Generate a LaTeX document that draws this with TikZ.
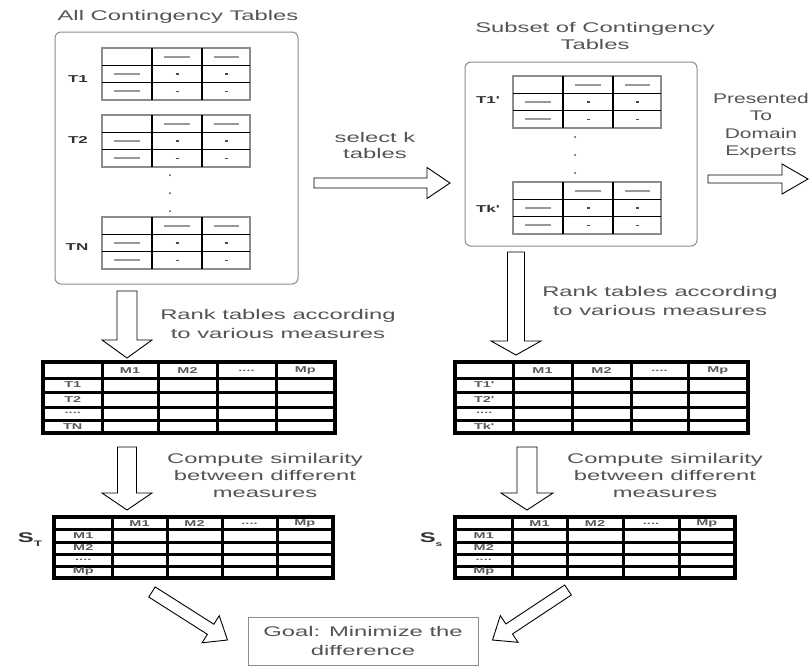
\documentclass[tikz,border=0pt]{standalone}
\usepackage{fontspec}
\setmainfont{Liberation Sans}
\newfontfamily\wf[FakeStretch=1.7]{Liberation Sans}
\newfontfamily\wfn[FakeStretch=1.5]{Liberation Sans}
\usetikzlibrary{calc}
\definecolor{txt}{gray}{0.33}
\definecolor{framec}{gray}{0.55}
\definecolor{dashc}{gray}{0.6}
\newcommand{\fdots}{....}

\tikzset{
  grpbox/.style={draw=framec, line width=1pt, rounded corners=6pt, inner sep=0pt, outer sep=0pt},
  lbl/.style={font=\wf\fontsize{14}{18}\selectfont, text=txt, align=center, inner sep=0pt},
  tlbl/.style={font=\wf\bfseries\fontsize{10}{12}\selectfont, text=black!80, inner sep=0pt},
  cell/.style={font=\wf\bfseries\fontsize{8.5}{9}\selectfont, text=black!65, inner sep=0pt},
  tabarea/.style={inner sep=0pt, outer sep=0pt},
  blockarr/.style={draw=black, line width=0.9pt, fill=white, line join=miter},
}

% start, tip, shaft half width, head half width, head length
\newcommand{\hollowarrow}[5]{%
  \coordinate (hac) at ($(#2)!#5!(#1)$);
  \draw[blockarr] ($(#1)!#3!90:(#2)$) -- ($(hac)!#3!90:(#2)$) -- ($(hac)!#4!90:(#2)$) -- (#2)
    -- ($(hac)!#4!-90:(#2)$) -- ($(hac)!#3!-90:(#2)$) -- ($(#1)!#3!-90:(#2)$) -- cycle;}

% small contingency table at top-left corner (x,y)
\newcommand{\minitab}[2]{%
  \begin{scope}[shift={(#1,#2)}]
    \draw[framec, line width=1.2pt] (0,0) rectangle (148,52);
    \draw[black, line width=1.5pt] (50,0) -- (50,52) (100,0) -- (100,52)
      (0,17.3) -- (148,17.3) (0,34.7) -- (148,34.7);
    \draw[dashc, line width=2.2pt] (62,8.7) -- (88,8.7) (112,8.7) -- (137,8.7)
      (12,26) -- (38,26) (12,43.3) -- (38,43.3);
    \draw[black!70, line width=1.2pt] (73.5,26) -- (76.5,26) (122.5,26) -- (125.5,26)
      (73.5,43.3) -- (76.5,43.3) (122.5,43.3) -- (125.5,43.3);
  \end{scope}}

% grid table: x pairs, y pairs, outer corner 1, outer corner 2
\newcommand{\gridtab}[4]{%
  \fill[black] (#3) rectangle (#4);
  \foreach \xa/\xb in {#1} {\foreach \ya/\yb in {#2} {
    \fill[white] (\xa+1.5,\ya+1.5) rectangle (\xb-1.5,\yb-1.5);}}}

\begin{document}
\begin{tikzpicture}[x=1pt,y=-1pt]
\useasboundingbox (0,0) rectangle (812,667);
\fill[white] (0,0) rectangle (812,667);

% ---------- titles ----------
\node[lbl] (t1) at (178,17) {All Contingency Tables};
\node[lbl, font=\wf\fontsize{14}{17}\selectfont] (t2) at (595,36) {Subset of Contingency\\Tables};

% ---------- left group box ----------
\node[grpbox, minimum width=243pt, minimum height=252pt] (allbox) at (176.5,158) {};
\minitab{102}{48}
\minitab{102}{115}
\minitab{102}{217}
\node[tlbl] (lT1) at (78,79) {T1};
\node[tlbl] (lT2) at (78,140) {T2};
\node[tlbl] (lTN) at (77,247) {TN};
\foreach \yy in {175,193,211} \fill[black!70] (170,\yy) circle (1pt);

% ---------- right group box ----------
\node[grpbox, minimum width=232pt, minimum height=184pt] (selbox) at (581,154) {};
\minitab{513}{76}
\minitab{513}{182}
\node[tlbl] (rT1) at (488,100) {T1'};
\node[tlbl] (rTk) at (488,209) {Tk'};
\foreach \yy in {137,155,173} \fill[black!70] (575,\yy) circle (1pt);

% ---------- select / presented ----------
\node[lbl, font=\wf\fontsize{14}{16}\selectfont] (selk) at (375,145) {select k\\tables};
\node[lbl, font=\wfn\fontsize{14}{17.3}\selectfont] (pres) at (761,126) {Presented\\To\\Domain\\Experts};
\coordinate (s1) at ($(allbox.east)+(16,25)$);
\coordinate (s2) at ($(selbox.west)+(-15,29)$);
\hollowarrow{s1}{s2}{5pt}{15.5pt}{23pt}
\coordinate (p1) at ($(selbox.east)+(11,25)$);
\coordinate (p2) at (808,179);
\hollowarrow{p1}{p2}{4pt}{15pt}{26pt}

% ---------- rank tables ----------
\node[tabarea, minimum width=296pt, minimum height=75pt] (rankL) at (189,397.5) {};
\gridtab{43.5/102,102/158,158/217,217/276,276/334.5}{362.5/378,378/392,392/407,407/420,420/432.5}{41,360}{337,435}
\node[tabarea, minimum width=297pt, minimum height=75pt] (rankR) at (601.5,397.5) {};
\gridtab{455.5/513,513/572,572/631,631/688,688/747.5}{362.5/378,378/392,392/407,407/420,420/432.5}{453,360}{750,435}

\foreach \xc/\tx in {130/M1,187.5/M2,246.5/\fdots,305.25/Mp} \node[cell] at (\xc,370.5) {\tx};
\foreach \yc/\tx in {385/T1,399.5/T2,413/\fdots,426.5/TN} \node[cell] at (72.75,\yc) {\tx};
\foreach \xc/\tx in {542.5/M1,601.5/M2,659.5/\fdots,717.75/Mp} \node[cell] at (\xc,370.5) {\tx};
\foreach \yc/\tx in {385/T1',399.5/T2',413/\fdots,426.5/Tk'} \node[cell] at (484.25,\yc) {\tx};

\node[lbl, font=\wf\fontsize{14}{19}\selectfont] (rkL) at (278,323.5) {Rank tables according\\to various measures};
\node[lbl, font=\wf\fontsize{14}{18.5}\selectfont] (rkR) at (660,301) {Rank tables according\\to various measures};

\coordinate (a1s) at ($(allbox.south)+(-49.5,7)$);
\coordinate (a1e) at ($(rankL.north)+(-62,-2)$);
\hollowarrow{a1s}{a1e}{10pt}{25pt}{18pt}
\coordinate (a2s) at ($(selbox.south)+(-65,6)$);
\coordinate (a2e) at ($(rankR.north)+(-85.5,-5)$);
\hollowarrow{a2s}{a2e}{8.5pt}{25pt}{14pt}

% ---------- similarity tables ----------
\node[tabarea, minimum width=283pt, minimum height=65pt] (stL) at (193.5,547.5) {};
\gridtab{54.5/112,112/167,167/222,222/277,277/332.5}{517.5/529,529/542,542/554,554/566,566/577.5}{52,515}{335,580}
\node[tabarea, minimum width=284pt, minimum height=65pt] (ssR) at (595,547.5) {};
\gridtab{455.5/512,512/567,567/623,623/679,679/734.5}{517.5/529,529/542,542/554,554/566,566/577.5}{453,515}{737,580}

\foreach \xc/\tx in {139.5/M1,194.5/M2,249.5/\fdots,304.75/Mp} \node[cell] at (\xc,523.5) {\tx};
\foreach \yc/\tx in {535.5/M1,548/M2,560/\fdots,571.75/Mp} \node[cell] at (83.25,\yc) {\tx};
\foreach \xc/\tx in {539.5/M1,595/M2,651/\fdots,706.75/Mp} \node[cell] at (\xc,523.5) {\tx};
\foreach \yc/\tx in {535.5/M1,548/M2,560/\fdots,571.75/Mp} \node[cell] at (483.75,\yc) {\tx};

\node[inner sep=0pt, text=black!80, font=\wf\bfseries\fontsize{14}{16}\selectfont] (sT) at (30,540)
  {S\raisebox{-4pt}{\fontsize{8}{8}\selectfont T}};
\node[inner sep=0pt, text=black!80, font=\wf\bfseries\fontsize{14}{16}\selectfont] (sS) at (431,540)
  {S\raisebox{-4pt}{\fontsize{7}{8}\selectfont s}};

\node[lbl, font=\wf\fontsize{14}{17}\selectfont] (cpL) at (265,475) {Compute similarity\\between different\\measures};
\node[lbl, font=\wf\fontsize{14}{17}\selectfont] (cpR) at (665,475) {Compute similarity\\between different\\measures};

\coordinate (b1s) at ($(rankL.south)+(-62,12)$);
\coordinate (b1e) at ($(stL.north)+(-66.5,-5)$);
\hollowarrow{b1s}{b1e}{9.5pt}{25pt}{17pt}
\coordinate (b2s) at ($(rankR.south)+(-74.5,12)$);
\coordinate (b2e) at ($(ssR.north)+(-68,-5)$);
\hollowarrow{b2s}{b2e}{10pt}{26pt}{17pt}

% ---------- goal ----------
\node[draw=framec, line width=1pt, minimum width=230pt, minimum height=48pt, inner sep=0pt,
      font=\wf\fontsize{14}{19}\selectfont, text=txt, align=center] (goal) at (363,641)
  {Goal: Minimize the\\difference};

\coordinate (c1s) at ($(stL.south)+(-41.5,12)$);
\coordinate (c1e) at ($(goal.west)+(-20,-1)$);
\hollowarrow{c1s}{c1e}{6pt}{16pt}{20pt}
\coordinate (c2s) at ($(ssR.south)+(-27,10)$);
\coordinate (c2e) at ($(goal.east)+(14,-1)$);
\hollowarrow{c2s}{c2e}{6pt}{16pt}{20pt}
\end{tikzpicture}
\end{document}
